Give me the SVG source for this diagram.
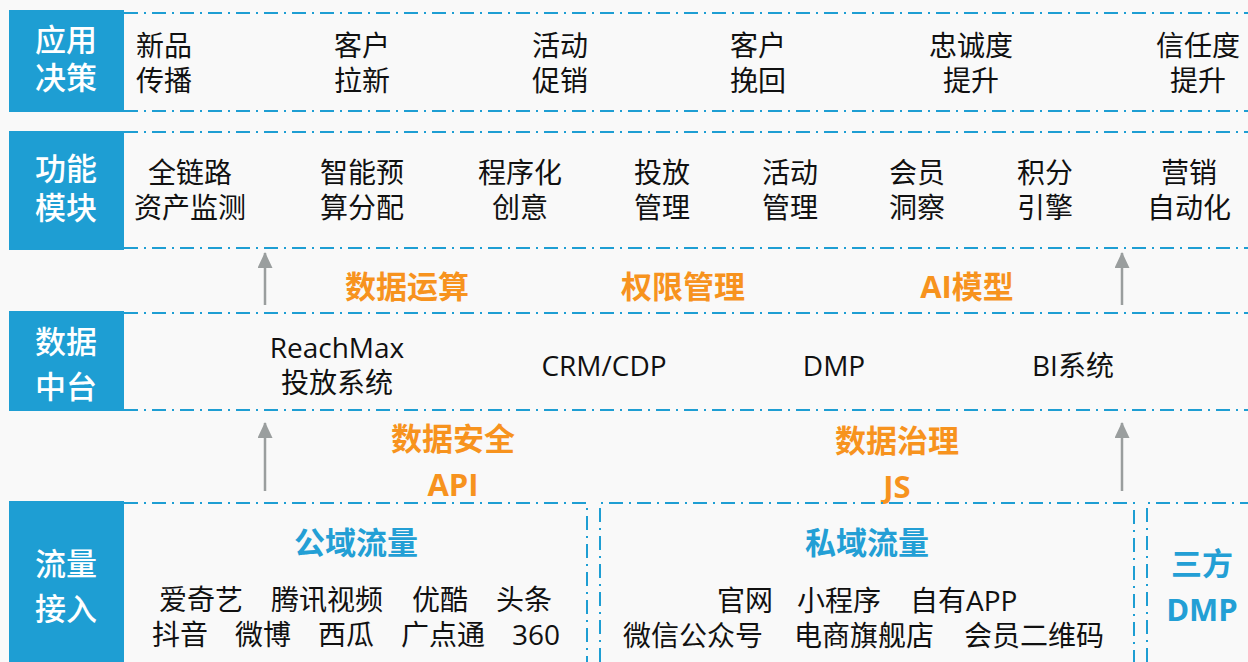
<svg xmlns="http://www.w3.org/2000/svg" width="1248" height="662" viewBox="0 0 1248 662">
<style>
.bg{fill:#f9f9f9}
.lbl{fill:#1e9ed3}
.lt{fill:#fff;font-family:"Open Sans","Noto Sans CJK SC",sans-serif;font-size:31px;font-weight:500;text-anchor:middle}
.dl{stroke:#1e9ed3;stroke-width:2;stroke-dasharray:14 6 2 6;fill:none}
.t{fill:#111;font-family:"Open Sans","Noto Sans CJK SC",sans-serif;font-size:28px;text-anchor:middle}
.tl{fill:#111;font-family:"Open Sans","Noto Sans CJK SC",sans-serif;font-size:28px;text-anchor:middle}
.ts{fill:#111;font-family:"Open Sans","Noto Sans CJK SC",sans-serif;font-size:28px}
.or{fill:#f7931e;font-family:"Open Sans","Noto Sans CJK SC",sans-serif;font-size:31px;font-weight:bold;text-anchor:middle}
.bl{fill:#239fd5;font-family:"Open Sans","Noto Sans CJK SC",sans-serif;font-size:31px;font-weight:bold;text-anchor:middle}
.ar{stroke:#9a9e9e;stroke-width:2.5;fill:none}
</style>
<defs>
<marker id="ah" markerUnits="userSpaceOnUse" viewBox="0 0 16 15" refX="15" refY="7.5" markerWidth="16" markerHeight="15" orient="auto">
<path d="M0,0 L16,7.5 L0,15 z" fill="#9a9e9e"/>
</marker>
</defs>
<rect class="bg" x="0" y="0" width="1248" height="662"/>

<g id="row-app">
<rect class="lbl" x="9" y="10" width="115" height="102"/>
<text class="lt" x="66" y="51">应用</text>
<text class="lt" x="66" y="89">决策</text>
<line class="dl" x1="124" y1="13" x2="1248" y2="13"/>
<line class="dl" x1="124" y1="111" x2="1248" y2="111"/>
<text class="t" x="164" y="56">新品</text><text class="t" x="164" y="91">传播</text>
<text class="t" x="362" y="56">客户</text><text class="t" x="362" y="91">拉新</text>
<text class="t" x="560" y="56">活动</text><text class="t" x="560" y="91">促销</text>
<text class="t" x="758" y="56">客户</text><text class="t" x="758" y="91">挽回</text>
<text class="t" x="971" y="56">忠诚度</text><text class="t" x="971" y="91">提升</text>
<text class="t" x="1198" y="56">信任度</text><text class="t" x="1198" y="91">提升</text>
</g>

<g id="row-func">
<rect class="lbl" x="9" y="131" width="115" height="119"/>
<text class="lt" x="66" y="180">功能</text>
<text class="lt" x="66" y="219">模块</text>
<line class="dl" x1="124" y1="132" x2="1248" y2="132"/>
<line class="dl" x1="124" y1="248" x2="1248" y2="248"/>
<text class="t" x="190" y="183">全链路</text><text class="t" x="190" y="218">资产监测</text>
<text class="t" x="362" y="183">智能预</text><text class="t" x="362" y="218">算分配</text>
<text class="t" x="520" y="183">程序化</text><text class="t" x="520" y="218">创意</text>
<text class="t" x="662" y="183">投放</text><text class="t" x="662" y="218">管理</text>
<text class="t" x="790" y="183">活动</text><text class="t" x="790" y="218">管理</text>
<text class="t" x="917" y="183">会员</text><text class="t" x="917" y="218">洞察</text>
<text class="t" x="1045" y="183">积分</text><text class="t" x="1045" y="218">引擎</text>
<text class="t" x="1189" y="183">营销</text><text class="t" x="1189" y="218">自动化</text>
</g>

<g id="mid-labels-top">
<text class="or" x="407" y="298">数据运算</text>
<text class="or" x="683" y="298">权限管理</text>
<text class="or" x="967" y="298">AI模型</text>
</g>

<g id="row-data">
<rect class="lbl" x="9" y="311" width="115" height="100"/>
<text class="lt" x="66" y="353">数据</text>
<text class="lt" x="66" y="398">中台</text>
<line class="dl" x1="124" y1="313" x2="1248" y2="313"/>
<line class="dl" x1="124" y1="410" x2="1248" y2="410"/>
<text class="tl" x="337" y="358">ReachMax</text>
<text class="t" x="337" y="393">投放系统</text>
<text class="tl" x="604" y="376">CRM/CDP</text>
<text class="tl" x="834" y="376">DMP</text>
<text class="tl" x="1073" y="376">BI系统</text>
</g>

<g id="mid-labels-bottom">
<text class="or" x="453" y="450">数据安全</text>
<text class="or" x="453" y="496">API</text>
<text class="or" x="897" y="452">数据治理</text>
<text class="or" x="897" y="498">JS</text>
</g>

<g id="row-traffic">
<rect class="lbl" x="9" y="501" width="115" height="161"/>
<text class="lt" x="66" y="575">流量</text>
<text class="lt" x="66" y="620">接入</text>
</g>

<g id="public-traffic">
<path class="dl" d="M124,503 H587 V662"/>
<text class="bl" x="356" y="554">公域流量</text>
<text class="ts" y="610"><tspan x="159">爱奇艺</tspan><tspan x="271">腾讯视频</tspan><tspan x="412">优酷</tspan><tspan x="496">头条</tspan></text>
<text class="ts" y="645"><tspan x="152">抖音</tspan><tspan x="235">微博</tspan><tspan x="318">西瓜</tspan><tspan x="401">广点通</tspan><tspan x="512">360</tspan></text>
</g>

<g id="private-traffic">
<path class="dl" d="M600,662 V503 H1134 V662"/>
<text class="bl" x="867" y="554">私域流量</text>
<text class="ts" y="611"><tspan x="717">官网</tspan><tspan x="797">小程序</tspan><tspan x="910">自有APP</tspan></text>
<text class="ts" y="646"><tspan x="623">微信公众号</tspan><tspan x="794">电商旗舰店</tspan><tspan x="964">会员二维码</tspan></text>
</g>

<g id="third-dmp">
<path class="dl" d="M1147,662 V503 H1248"/>
<text class="bl" x="1202" y="575">三方</text>
<text class="bl" x="1202" y="621">DMP</text>
</g>

<g id="connectors">
<line class="ar" x1="265" y1="305" x2="265" y2="253" marker-end="url(#ah)"/>
<line class="ar" x1="1122" y1="305" x2="1122" y2="253" marker-end="url(#ah)"/>
<line class="ar" x1="265" y1="491" x2="265" y2="423" marker-end="url(#ah)"/>
<line class="ar" x1="1122" y1="491" x2="1122" y2="423" marker-end="url(#ah)"/>
</g>
</svg>
